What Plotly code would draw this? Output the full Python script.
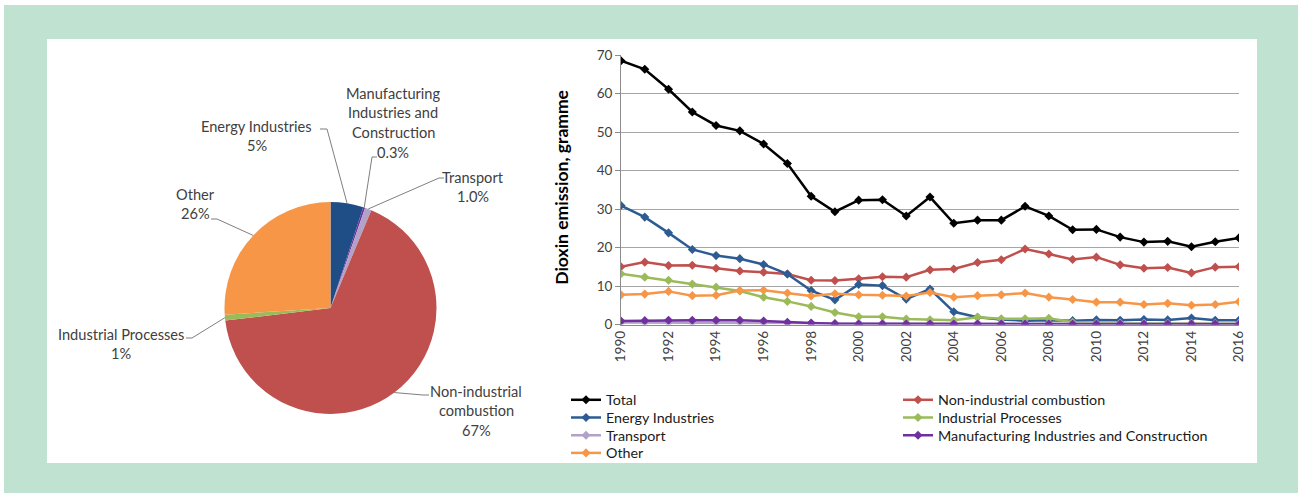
import math
import plotly.graph_objects as go

W, H = 1306, 497
def px(x): return x / W
def py(y): return 1 - y / H

# ---------------- data ----------------
years = list(range(1990, 2017))
total = [68.5, 66.3, 61.1, 55.2, 51.7, 50.3, 46.9, 41.8, 33.3, 29.3, 32.3, 32.4, 28.2, 33.1,
         26.3, 27.1, 27.1, 30.7, 28.2, 24.6, 24.7, 22.7, 21.4, 21.6, 20.2, 21.5, 22.5]
non_industrial = [15.0, 16.2, 15.3, 15.4, 14.6, 13.9, 13.6, 13.1, 11.5, 11.4, 11.9, 12.4, 12.3, 14.2,
                  14.4, 16.1, 16.8, 19.6, 18.3, 16.9, 17.5, 15.5, 14.6, 14.8, 13.4, 14.9, 15.0]
energy = [30.9, 27.9, 23.8, 19.5, 17.9, 17.1, 15.6, 13.1, 8.8, 6.4, 10.4, 10.1, 6.6, 9.2,
          3.3, 1.9, 1.3, 1.0, 1.1, 1.0, 1.2, 1.1, 1.3, 1.2, 1.7, 1.1, 1.1]
industrial = [13.2, 12.3, 11.5, 10.5, 9.7, 8.7, 7.1, 6.0, 4.7, 3.1, 2.0, 2.0, 1.4, 1.2,
              1.1, 1.9, 1.5, 1.5, 1.6, 0.6, 0.3, 0.3, 0.3, 0.3, 0.3, 0.25, 0.22]
transport = [0.5, 0.5, 0.5, 0.5, 0.5, 0.5, 0.4, 0.4, 0.3, 0.3, 0.3, 0.3, 0.3, 0.3,
             0.3, 0.3, 0.3, 0.3, 0.3, 0.3, 0.3, 0.3, 0.3, 0.2, 0.2, 0.2, 0.22]
manufacturing = [0.9, 1.0, 1.1, 1.1, 1.1, 1.1, 0.9, 0.6, 0.4, 0.2, 0.1, 0.1, 0.1, 0.1,
                 0.1, 0.1, 0.1, 0.1, 0.1, 0.1, 0.1, 0.1, 0.1, 0.1, 0.1, 0.1, 0.07]
other = [7.7, 7.9, 8.6, 7.5, 7.6, 8.8, 8.9, 8.2, 7.4, 8.0, 7.7, 7.6, 7.4, 8.3,
         7.1, 7.5, 7.7, 8.2, 7.1, 6.5, 5.8, 5.8, 5.2, 5.5, 5.0, 5.2, 5.9]

series_names = ["Total", "Non-industrial combustion", "Energy Industries", "Industrial Processes",
                "Transport", "Manufacturing Industries and Construction", "Other"]
series_values = [total, non_industrial, energy, industrial, transport, manufacturing, other]
series_colors = ["#000000", "#c0504d", "#2c5c93", "#9bbb59", "#b3a2c7", "#7030a0", "#f79646"]

pie_labels = ["Energy Industries", "Manufacturing Industries and Construction", "Transport",
              "Non-industrial combustion", "Industrial Processes", "Other"]
pie_values = [5.0, 0.3, 1.0, 66.8, 0.9, 26.0]
pie_pct_text = ["5%", "0.3%", "1.0%", "67%", "1%", "26%"]
pie_colors = ["#1f4e87", "#7030a0", "#b3a2c7", "#c0504d", "#9bbb59", "#f79646"]
pie_label_lines = [["Energy Industries"], ["Manufacturing", "Industries and", "Construction"],
                   ["Transport"], ["Non-industrial", "combustion"], ["Industrial Processes"], ["Other"]]

# ---------------- layout geometry (pixels) ----------------
FONT = "Lato"
TXT = "#404040"
pie_box = (224, 202, 437, 414)            # left, top, right, bottom
line_x0, line_x1 = 621, 1239
line_y_top, line_y_bot = 55, 324.5

# label text centres (x, first-line y) and leader-line anchor points near the text (pie order)
label_pos = [(256.5, 126), (393, 93), (472.5, 177), (476, 391), (120.5, 334), (195, 194)]
leader_anchor = [[(327, 129), (320, 129)],
                 [(372, 157), (377, 157)],
                 [(439, 178), (444, 178)],
                 [(423, 395), (429, 395)],
                 [(192, 338), (186, 338)],
                 [(217, 219), (211, 219)]]
LINE_STEP = 19.8

# legend grid (two columns, row-major order)
legend_col_x = [566, 898]
legend_row0_y, legend_row_step = 400, 17.7

fig = go.Figure()

legend_layouts = {}
for i, (name, vals, col) in enumerate(zip(series_names, series_values, series_colors)):
    lg = "legend" if i == 0 else f"legend{i + 1}"
    fig.add_trace(go.Scatter(
        x=years, y=vals, name=name, mode="lines+markers",
        line=dict(color=col, width=2.5),
        marker=dict(symbol="diamond", size=7, color=col),
        xaxis="x", yaxis="y", legend=lg,
    ))
    c, rrow = i % 2, i // 2
    legend_layouts[lg] = dict(
        x=px(legend_col_x[c]), y=py(legend_row0_y + rrow * legend_row_step - 16),
        xanchor="left", yanchor="top", orientation="v", itemwidth=30,
        font=dict(family=FONT, size=14.3, color="#1a1a1a"),
        bgcolor="rgba(0,0,0,0)", borderwidth=0)

# pie
fig.add_trace(go.Pie(
    labels=pie_labels, values=pie_values, sort=False, direction="clockwise", rotation=0,
    marker=dict(colors=pie_colors, line=dict(width=0)),
    textinfo="none", showlegend=False,
    domain=dict(x=[px(pie_box[0]), px(pie_box[2])], y=[py(pie_box[3]), py(pie_box[1])]),
))

# background panels
shapes = [
    dict(type="rect", xref="paper", yref="paper", x0=px(4), x1=px(1298), y0=py(493), y1=py(5),
         fillcolor="#bfe2d1", line=dict(width=0), layer="below"),
    dict(type="rect", xref="paper", yref="paper", x0=px(47), x1=px(1257), y0=py(463), y1=py(39),
         fillcolor="#ffffff", line=dict(width=0), layer="below"),
]

annotations = []
# pie labels + leader lines computed from slice mid-angles
cx = (pie_box[0] + pie_box[2]) / 2
cy = (pie_box[1] + pie_box[3]) / 2
r = min(pie_box[2] - pie_box[0], pie_box[3] - pie_box[1]) / 2
tot = sum(pie_values)
cum = 0
for i, v in enumerate(pie_values):
    mid = (cum + v / 2) / tot * 2 * math.pi
    cum += v
    tx = cx + r * math.sin(mid)
    ty = cy - r * math.cos(mid)
    pts = [(tx, ty)] + leader_anchor[i]
    path = "M " + " L ".join(f"{px(a)},{py(b)}" for a, b in pts)
    shapes.append(dict(type="path", xref="paper", yref="paper", path=path,
                       line=dict(color="#7f7f7f", width=1)))
    lines = pie_label_lines[i] + [pie_pct_text[i]]
    lx, ly = label_pos[i]
    for k, t in enumerate(lines):
        annotations.append(dict(text=t, xref="paper", yref="paper", x=px(lx), y=py(ly + k * LINE_STEP),
                                xanchor="center", yanchor="middle", showarrow=False,
                                font=dict(family=FONT, size=14.6, color=TXT)))

# y-axis title
annotations.append(dict(text="<b>Dioxin emission, gramme</b>", xref="paper", yref="paper",
                        x=px(562), y=py((line_y_top + line_y_bot) / 2 - 2), textangle=-90,
                        showarrow=False, xanchor="center", yanchor="middle",
                        font=dict(family=FONT, size=17.5, color="#000000")))

fig.update_layout(
    width=W, height=H, margin=dict(l=0, r=0, t=0, b=0, autoexpand=False),
    paper_bgcolor="#ffffff", plot_bgcolor="rgba(0,0,0,0)",
    shapes=shapes, annotations=annotations,
    xaxis=dict(domain=[px(line_x0), px(line_x1)], range=[1990, 2016],
               tickvals=years[::2], tickangle=-90, showgrid=False,
               showline=True, linecolor="#8c8c8c", linewidth=1, zeroline=False,
               ticks="", tickfont=dict(family=FONT, size=13.5, color=TXT)),
    yaxis=dict(domain=[py(line_y_bot), py(line_y_top)], range=[0, 70], dtick=10,
               showgrid=True, gridcolor="#a6a6a6", gridwidth=1, zeroline=False,
               showline=True, linecolor="#8c8c8c", linewidth=1,
               ticks="outside", ticklen=5, tickcolor="#8c8c8c",
               tickfont=dict(family=FONT, size=13.5, color=TXT)),
    showlegend=True,
    **legend_layouts,
)

fig.write_html("out.html")
